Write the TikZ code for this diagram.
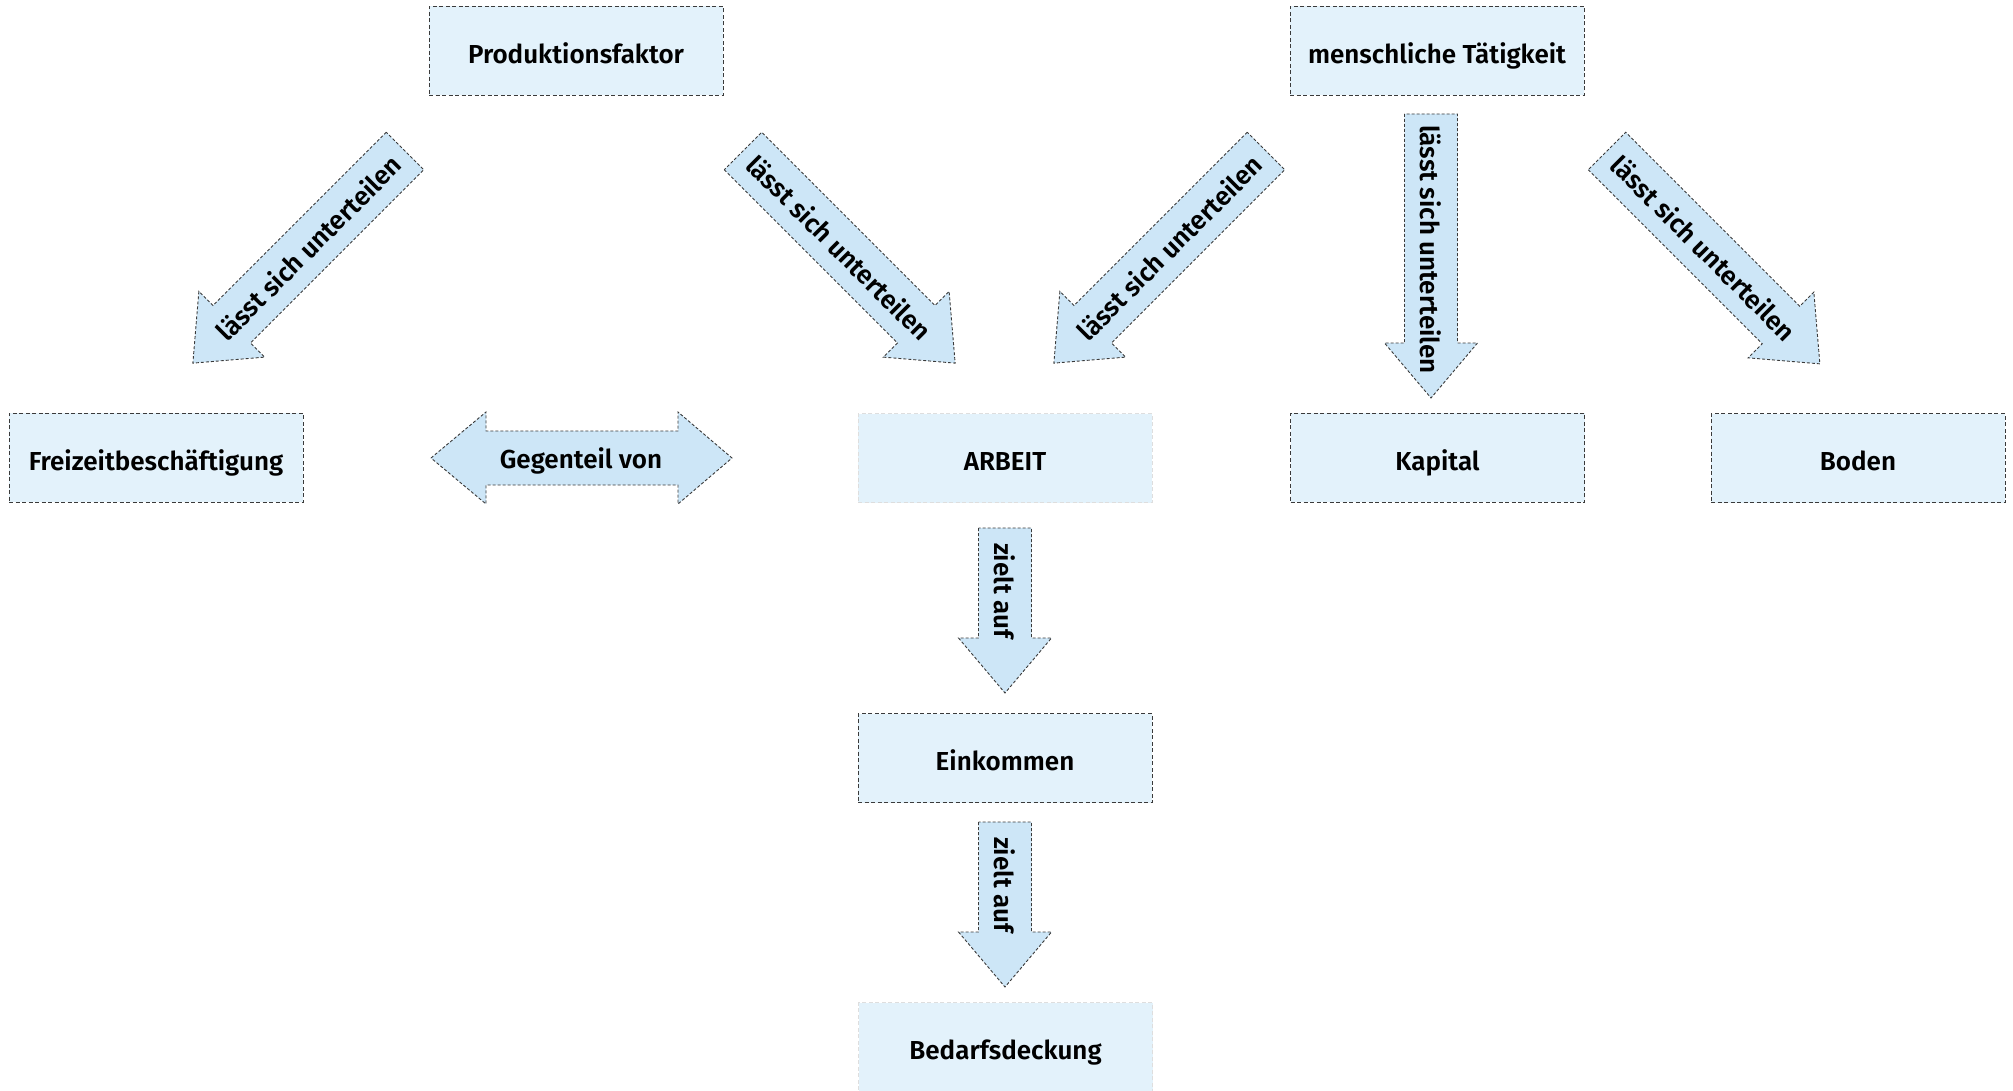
\documentclass[tikz,border=0pt]{standalone}
\usepackage{fontspec}
\setmainfont{Fira Sans}[BoldFont={Fira Sans SemiBold}]
\definecolor{boxfill}{HTML}{E3F2FB}
\definecolor{arrowfill}{HTML}{CDE6F7}
\definecolor{edge}{HTML}{3A3A3A}
\tikzset{
  box/.style={draw=edge, line width=0.95pt, dash pattern=on 4pt off 2.5pt, fill=boxfill,
    minimum width=294pt, minimum height=89pt, inner sep=0pt, outer sep=0pt,
    text height=25pt, text depth=0pt,
    font=\fontsize{26}{30}\selectfont\bfseries},
  softbox/.style={box, draw=black!13},
  lbl/.style={inner sep=0pt, font=\fontsize{26}{30}\selectfont\bfseries},
  arrowbody/.style={draw=edge, line width=0.9pt, dash pattern=on 3pt off 2pt, fill=arrowfill},
  pics/barrow/.style n args={4}{code={
    \path[arrowbody] (0,-26.5) -- ({#1-55},-26.5) -- ({#1-55},-46.5) -- (#1,0)
      -- ({#1-55},46.5) -- ({#1-55},26.5) -- (0,26.5) -- cycle;
    \node[lbl,rotate=#3] (-text) at ({(#1-27)/2+#4},0) {#2};
  }}
}
\begin{document}
\begin{tikzpicture}[x=1pt,y=1pt]
\useasboundingbox (0,0) rectangle (2013,-1091);
% boxes
\node[box] (prod) at (576,-51) {Produktionsfaktor};
\node[box] (mensch) at (1437,-51) {menschliche Tätigkeit};
\node[box] (frei) at (156,-457.5) {Freizeitbeschäftigung};
\node[softbox] (arbeit) at (1005,-458) {ARBEIT};
\node[box] (kapital) at (1437.5,-457.5) {Kapital};
\node[box] (boden) at (1858,-458) {Boden};
\node[box] (einkommen) at (1005,-758) {Einkommen};
\node[softbox] (bedarf) at (1005.5,-1047) {Bedarfsdeckung};
% block arrows
\pic[rotate=225] (a1) at (405,-151) {barrow={300}{lässt sich unterteilen}{45}{0}};
\pic[rotate=-45] (a2) at (743,-151) {barrow={300}{lässt sich unterteilen}{-45}{0}};
\pic[rotate=225] (a3) at (1266,-151) {barrow={300}{lässt sich unterteilen}{45}{0}};
\pic[rotate=-45] (a4) at (1607,-151) {barrow={301}{lässt sich unterteilen}{-45}{0}};
\pic[rotate=-90] (a5) at (1431,-114) {barrow={284}{lässt sich unterteilen}{-90}{7}};
\pic[rotate=-90] (a6) at (1005,-528) {barrow={165}{zielt auf}{-90}{-6}};
\pic[rotate=-90] (a7) at (1005,-822) {barrow={165}{zielt auf}{-90}{-6}};
% double arrow
\path[arrowbody] (431,-458) -- (486,-412) -- (486,-431) -- (678,-431) -- (678,-412)
  -- (732,-458) -- (678,-504) -- (678,-485) -- (486,-485) -- (486,-504) -- cycle;
\node[lbl] (gegen) at (581,-461) {Gegenteil von};
\end{tikzpicture}
\end{document}
